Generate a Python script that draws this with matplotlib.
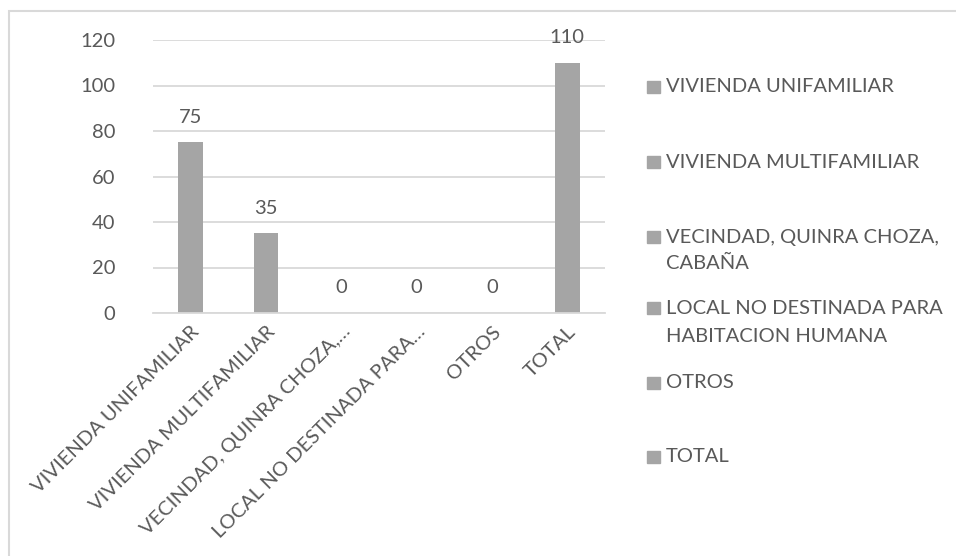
import matplotlib
matplotlib.use('Agg')
import matplotlib.pyplot as plt
from matplotlib.patches import Rectangle

plt.rcParams['font.family'] = ['Lato', 'DejaVu Sans']

categories = ['VIVIENDA UNIFAMILIAR', 'VIVIENDA MULTIFAMILIAR',
              'VECINDAD, QUINRA CHOZA,…', 'LOCAL NO DESTINADA PARA…',
              'OTROS', 'TOTAL']
legend_labels = ['VIVIENDA UNIFAMILIAR', 'VIVIENDA MULTIFAMILIAR',
                 'VECINDAD, QUINRA CHOZA,\nCABAÑA',
                 'LOCAL NO DESTINADA PARA\nHABITACION HUMANA',
                 'OTROS', 'TOTAL']
values = [75, 35, 0, 0, 0, 110]
yticks = [0, 20, 40, 60, 80, 100, 120]

W, H = 956, 556
FS = 14.5
bar_color = '#a5a5a5'
text_color = '#595959'
grid_color = '#d9d9d9'

fig = plt.figure(figsize=(W / 100, H / 100), dpi=100)
# plot area in pixels: x 153..605, y 40..313
ax = fig.add_axes([153 / W, 1 - 313 / H, (605 - 153) / W, (313 - 40) / H])

x = list(range(len(values)))
ax.bar(x, values, width=0.33, color=bar_color, zorder=2)
for xi, v in zip(x, values):
    ax.annotate(str(v), (xi, v), xytext=(0, 12), textcoords='offset points',
                ha='center', va='bottom', fontsize=FS, color=text_color)

ax.set_xlim(-0.5, len(values) - 0.5)
ax.set_ylim(0, 120)
ax.set_yticks(yticks)
ax.yaxis.grid(True, color=grid_color, linewidth=1.3, zorder=0)
for s in ['top', 'right', 'left']:
    ax.spines[s].set_visible(False)
ax.spines['bottom'].set_color(grid_color)
ax.spines['bottom'].set_linewidth(1.3)
ax.tick_params(length=0, labelsize=FS, labelcolor=text_color)
ax.tick_params(axis='y', pad=27)
ax.set_xticks(x)
ax.set_xticklabels(categories, rotation=45, ha='right', va='top',
                   rotation_mode='anchor')
ax.tick_params(axis='x', pad=7)

# legend, drawn line by line at measured pixel rows
line_rows = [[87], [162], [237, 263], [308, 337], [383], [457]]
for lab, rows in zip(legend_labels, line_rows):
    fig.patches.append(Rectangle((647 / W, 1 - (rows[0] + 6) / H), 13 / W, 12 / H,
                                 transform=fig.transFigure,
                                 color=bar_color, figure=fig))
    for line, yp in zip(lab.split('\n'), rows):
        fig.text(666 / W, 1 - yp / H, line, ha='left', va='center',
                 fontsize=FS, color=text_color)

# chart border
fig.patches.append(Rectangle((9 / W, -0.1), 1.2, 1 - 11 / H + 0.1,
                             transform=fig.transFigure, fill=False,
                             edgecolor='#d9d9d9', linewidth=1.5, figure=fig))

fig.savefig('out.png', dpi=100)
